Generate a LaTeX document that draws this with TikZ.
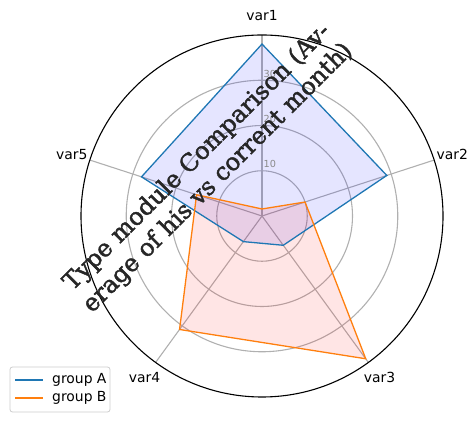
\documentclass[tikz,border=0pt]{standalone}
\usepackage{fontspec}
\setmainfont{DejaVu Sans}
\newfontfamily\titlefont[FakeBold=1.8]{DejaVu Serif}
\definecolor{tabblue}{HTML}{1F77B4}
\definecolor{taborange}{HTML}{FF7F0E}
\definecolor{gridgray}{HTML}{B0B0B0}
\definecolor{ticklab}{HTML}{8A8A8A}
\definecolor{titlec}{HTML}{262626}
\tikzset{
  gridline/.style={draw=gridgray, line width=1.1pt},
  varlabel/.style={font=\fontsize{13.9}{16}\selectfont, inner sep=0pt},
  ticklabel/.style={font=\fontsize{9.7}{11}\selectfont, text=ticklab, anchor=west, inner sep=0pt},
  seriesA/.style={draw=tabblue, line width=1.3pt, line join=miter},
  seriesB/.style={draw=taborange, line width=1.3pt, line join=miter},
  legline/.style={line width=1.4pt},
}
\begin{document}
\begin{tikzpicture}[x=1pt,y=1pt]
\useasboundingbox (0,0) rectangle (476,422);
\def\s{4.525}
\begin{scope}[shift={(262,206)}]
  \coordinate (C) at (0,0);
  % grid circles
  \foreach \v in {10,20,30} {
    \draw[gridline] (C) circle ({\v*\s*1pt});
  }
  % spokes
  \foreach \a in {90,18,-54,-126,162} {
    \draw[gridline] (C) -- (\a:181);
  }
  % fills
  \fill[blue, fill opacity=0.1] (90:38*\s) -- (18:29*\s) -- (-54:8*\s) -- (-126:7*\s) -- (162:28*\s) -- cycle;
  \fill[red, fill opacity=0.1] (90:1.55*\s) -- (18:10*\s) -- (-54:39*\s) -- (-126:31*\s) -- (162:15.2*\s) -- cycle;
  % outlines
  \draw[seriesA] (90:38*\s) -- (18:29*\s) -- (-54:8*\s) -- (-126:7*\s) -- (162:28*\s) -- cycle;
  \draw[seriesB] (90:1.55*\s) -- (18:10*\s) -- (-54:39*\s) -- (-126:31*\s) -- (162:15.2*\s) -- cycle;
  % outer circle
  \draw[black, line width=1.1pt] (C) circle (181pt);
  % tick labels
  \node[ticklabel] (t10) at (1.5,{10*\s+6.5}) {10};
  \node[ticklabel] (t20) at (1.5,{20*\s+6.5}) {20};
  \node[ticklabel] (t30) at (1.5,{30*\s+6.5}) {30};
  % variable labels
  \node[varlabel] (v1) at (90:200) {var1};
  \node[varlabel] (v2) at (18:200) {var2};
  \node[varlabel] (v3) at (-54:200) {var3};
  \node[varlabel] (v4) at (-126:200) {var4};
  \node[varlabel] (v5) at (162:200) {var5};
  % title
  \node[rotate=45, align=center, text=titlec, inner sep=0pt,
        font=\titlefont\fontsize{24}{29.5}\selectfont] (title) at (-54.2,48.2)
        {Type module Comparison (Av-\\erage of his vs corrent month)};
\end{scope}
% legend
\draw[draw=black!20, fill=white, rounded corners=2.5pt, line width=0.8pt] (10,55) rectangle (110,10);
\coordinate (la1) at (15,42);
\coordinate (la2) at (43,42);
\coordinate (lb1) at (15,24);
\coordinate (lb2) at (43,24);
\draw[legline, draw=tabblue] (la1) -- (la2);
\draw[legline, draw=taborange] (lb1) -- (lb2);
\node[varlabel, anchor=west] (lgA) at (52,42.5) {group A};
\node[varlabel, anchor=west] (lgB) at (52,23.7) {group B};
\end{tikzpicture}
\end{document}
